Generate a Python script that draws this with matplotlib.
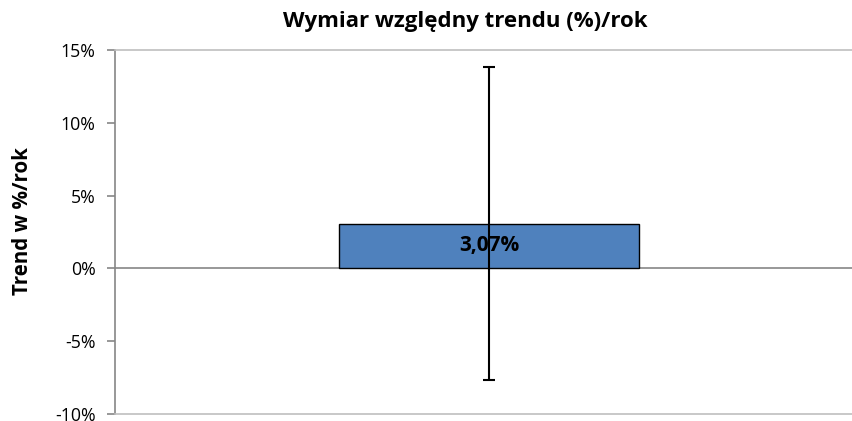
import matplotlib
matplotlib.use("Agg")
import matplotlib.pyplot as plt

categories = [""]
values = [3.07]
errors = [10.74]
yticks = [-10, -5, 0, 5, 10, 15]
ytick_labels = ["-10%", "-5%", "0%", "5%", "10%", "15%"]
value_labels = ["3,07%"]

plt.rcParams['font.family'] = ['Open Sans', 'DejaVu Sans']

fig = plt.figure(figsize=(8.53, 4.21), dpi=100)
W, H = 853, 421
left, right, top, bottom = 115, 853, 50, 414
ax = fig.add_axes([left / W, 1 - bottom / H, (right - left) / W, (bottom - top) / H])

x = list(range(len(values)))
ax.bar(x, values, width=0.401, color="#4F81BD", edgecolor="black", linewidth=1.0, zorder=2)
ax.errorbar(x, values, yerr=errors, fmt="none", ecolor="black", elinewidth=1.5,
            capsize=4.5, capthick=1.5, zorder=3)
ax.axhline(0, color="#868686", linewidth=1.2, zorder=1)

for xi, v, lab in zip(x, values, value_labels):
    ax.text(xi, v / 2 + 0.05, lab, ha="center", va="center", fontsize=15,
            fontweight="bold", color="black", zorder=4)

ax.set_xlim(-0.5, 0.4866)
ax.set_ylim(-10, 15)
ax.set_yticks(yticks)
ax.set_yticklabels(ytick_labels, fontsize=12.8)
ax.set_xticks([])

for s in ["top", "bottom"]:
    ax.spines[s].set_color("#BFBFBF")
    ax.spines[s].set_linewidth(1.2)
ax.spines["right"].set_visible(False)
ax.spines["left"].set_color("#868686")
ax.spines["left"].set_linewidth(1.2)
ax.tick_params(axis="y", direction="out", length=6, width=1.2, color="#868686", pad=8)

fig.text(23 / W, 1 - 221 / H, "Trend w %/rok", rotation=90, ha="center", va="center",
         fontsize=14.8, fontweight="bold")
fig.text(465 / W, 1 - 21 / H, "Wymiar względny trendu (%)/rok", ha="center", va="center",
         fontsize=16, fontweight="bold")

fig.savefig("out.png", dpi=100, facecolor="white")
